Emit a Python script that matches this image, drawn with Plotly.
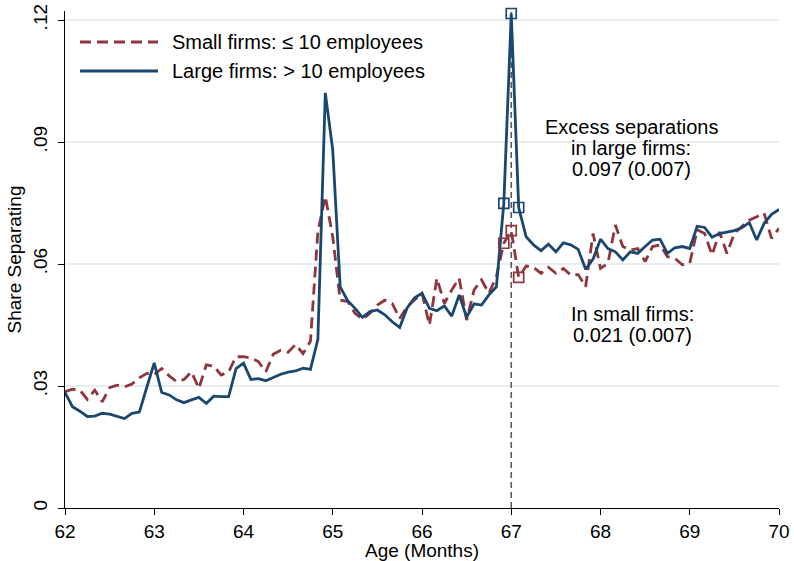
import numpy as np
import plotly.graph_objects as go

# Monthly age grid, 62y0m .. 70y0m (x axis is in years of age)
age_months = np.arange(62 * 12, 70 * 12 + 1)
age = age_months / 12.0

# Share of workers separating, firms with <= 10 employees
small_firms = [
    0.0286, 0.0292, 0.0290, 0.0267, 0.0290, 0.0261, 0.0296, 0.0302, 0.0298, 0.0305,
    0.0320, 0.0331, 0.0328, 0.0343, 0.0325, 0.0311, 0.0316, 0.0335, 0.0294, 0.0352,
    0.0349, 0.0327, 0.0335, 0.0372, 0.0372, 0.0369, 0.0360, 0.0335, 0.0378, 0.0388,
    0.0383, 0.0402, 0.0380, 0.0410, 0.0680, 0.0766, 0.0667, 0.0511, 0.0508, 0.0479,
    0.0464, 0.0479, 0.0499, 0.0511, 0.0503, 0.0466, 0.0495, 0.0511, 0.0528, 0.0450,
    0.0565, 0.0503, 0.0536, 0.0565, 0.0462, 0.0536, 0.0561, 0.0528, 0.0569, 0.0651,
    0.0682, 0.0567, 0.0595, 0.0592, 0.0577, 0.0592, 0.0577, 0.0589, 0.0573, 0.0574,
    0.0544, 0.0675, 0.0589, 0.0602, 0.0696, 0.0643, 0.0634, 0.0638, 0.0606, 0.0643,
    0.0647, 0.0618, 0.0614, 0.0598, 0.0602, 0.0684, 0.0675, 0.0622, 0.0679, 0.0626,
    0.0675, 0.0692, 0.0708, 0.0716, 0.0725, 0.0663, 0.0688,
]

# Share of workers separating, firms with > 10 employees
large_firms = [
    0.0284, 0.0249, 0.0238, 0.0225, 0.0226, 0.0233, 0.0231, 0.0226, 0.0220, 0.0233,
    0.0236, 0.0297, 0.0357, 0.0284, 0.0278, 0.0266, 0.0259, 0.0266, 0.0272, 0.0257,
    0.0275, 0.0274, 0.0274, 0.0343, 0.0356, 0.0316, 0.0318, 0.0313, 0.0321, 0.0329,
    0.0334, 0.0337, 0.0344, 0.0341, 0.0415, 0.1021, 0.0880, 0.0544, 0.0510, 0.0491,
    0.0469, 0.0483, 0.0487, 0.0475, 0.0458, 0.0444, 0.0492, 0.0517, 0.0528, 0.0491,
    0.0485, 0.0497, 0.0472, 0.0524, 0.0469, 0.0502, 0.0499, 0.0524, 0.0544, 0.0749,
    0.1216, 0.0739, 0.0667, 0.0647, 0.0633, 0.0649, 0.0630, 0.0652, 0.0647, 0.0636,
    0.0587, 0.0612, 0.0661, 0.0638, 0.0630, 0.0610, 0.0630, 0.0626, 0.0643, 0.0659,
    0.0661, 0.0626, 0.0640, 0.0643, 0.0638, 0.0693, 0.0690, 0.0666, 0.0675, 0.0678,
    0.0682, 0.0689, 0.0702, 0.0659, 0.0700, 0.0722, 0.0734,
]

# Months around the full retirement age that are highlighted
highlight_months = [66 * 12 + 11, 67 * 12, 67 * 12 + 1]
full_retirement_age = 67

x_ticks = [62, 63, 64, 65, 66, 67, 68, 69, 70]
y_ticks = [0, 0.03, 0.06, 0.09, 0.12]
y_tick_text = ["0", ".03", ".06", ".09", ".12"]

legend_labels = ["Small firms: \u2264 10 employees", "Large firms: > 10 employees"]
large_note = ["Excess separations", "in large firms:", "0.097 (0.007)"]
small_note = ["In small firms:", "0.021 (0.007)"]

RED = "#90353b"
BLUE = "#1a476f"
FONT = "Liberation Sans, Arial, Helvetica, sans-serif"
FS = 20        # legend and notes
FS_AXIS = 19   # tick labels and axis titles

# Page layout in pixels
W, H = 794, 561
L, R_, T, B = 65, 15, 11, 53
PW, PH = W - L - R_, H - T - B
Y_MAX = 0.12222

fig = go.Figure()

# Reference line at the full retirement age
fig.add_trace(go.Scatter(
    x=[full_retirement_age, full_retirement_age], y=[0, Y_MAX],
    mode="lines", line=dict(color="#5a5a5a", width=1.6, dash="6px,4px"),
    showlegend=False, hoverinfo="skip",
))

fig.add_trace(go.Scatter(
    x=age, y=small_firms, mode="lines", name=legend_labels[0],
    line=dict(color=RED, width=2.8, dash="11px,6px"), showlegend=False,
))
fig.add_trace(go.Scatter(
    x=age, y=large_firms, mode="lines", name=legend_labels[1],
    line=dict(color=BLUE, width=2.8), showlegend=False,
))

idx = [int(np.where(age_months == m)[0][0]) for m in highlight_months]
fig.add_trace(go.Scatter(
    x=age[idx], y=[small_firms[i] for i in idx], mode="markers",
    marker=dict(symbol="square-open", size=10, color=RED, line=dict(width=1.7, color=RED)),
    showlegend=False, cliponaxis=False,
))
fig.add_trace(go.Scatter(
    x=age[idx], y=[large_firms[i] for i in idx], mode="markers",
    marker=dict(symbol="square-open", size=10, color=BLUE, line=dict(width=1.7, color=BLUE)),
    showlegend=False, cliponaxis=False,
))


def px_x(px):
    return (px - L) / PW


def px_y(py):
    return (H - B - py) / PH


# Legend drawn with longer line samples
shapes = []
annotations = []
for label, color, dash, py in [(legend_labels[0], RED, "11px,6px", 42),
                               (legend_labels[1], BLUE, "solid", 71)]:
    shapes.append(dict(type="line", xref="paper", yref="paper",
                       x0=px_x(80), x1=px_x(158), y0=px_y(py), y1=px_y(py),
                       line=dict(color=color, width=2.8, dash=dash)))
    annotations.append(dict(xref="paper", yref="paper", x=px_x(170), y=px_y(py),
                            text=label, showarrow=False, xanchor="left", yanchor="middle",
                            font=dict(family=FONT, size=FS, color="black")))

for text, py in zip(large_note, [127, 148, 169]):
    annotations.append(dict(xref="paper", yref="paper", x=px_x(631), y=px_y(py),
                            text=text, showarrow=False, xanchor="center", yanchor="middle",
                            font=dict(family=FONT, size=FS, color="black")))
for text, py in zip(small_note, [314, 335]):
    annotations.append(dict(xref="paper", yref="paper", x=px_x(632), y=px_y(py),
                            text=text, showarrow=False, xanchor="center", yanchor="middle",
                            font=dict(family=FONT, size=FS, color="black")))

fig.update_layout(
    width=W, height=H,
    margin=dict(l=L, r=R_, t=T, b=B, pad=0),
    paper_bgcolor="white", plot_bgcolor="white",
    font=dict(family=FONT, size=FS_AXIS, color="black"),
    shapes=shapes, annotations=annotations,
    showlegend=False,
)
fig.update_xaxes(
    range=[62, 70], tickvals=x_ticks, ticks="outside", ticklen=6, tickwidth=1,
    tickcolor="black", showline=True, linecolor="black", linewidth=1,
    showgrid=False, zeroline=False,
    tickfont=dict(family=FONT, size=FS_AXIS),
    title=dict(text="Age (Months)", font=dict(family=FONT, size=FS_AXIS), standoff=4),
    automargin=False,
)
fig.update_yaxes(
    range=[0, Y_MAX], tickvals=y_ticks, ticktext=y_tick_text, tickangle=-90,
    ticks="outside", ticklen=6, tickwidth=1, tickcolor="black",
    showline=True, linecolor="black", linewidth=1,
    showgrid=True, gridcolor="#e6eef3", gridwidth=1.5, zeroline=False,
    tickfont=dict(family=FONT, size=FS_AXIS), ticklabelstandoff=3,
    title=dict(text="Share Separating", font=dict(family=FONT, size=FS_AXIS), standoff=3),
    automargin=False,
)

fig.write_html("out.html")
